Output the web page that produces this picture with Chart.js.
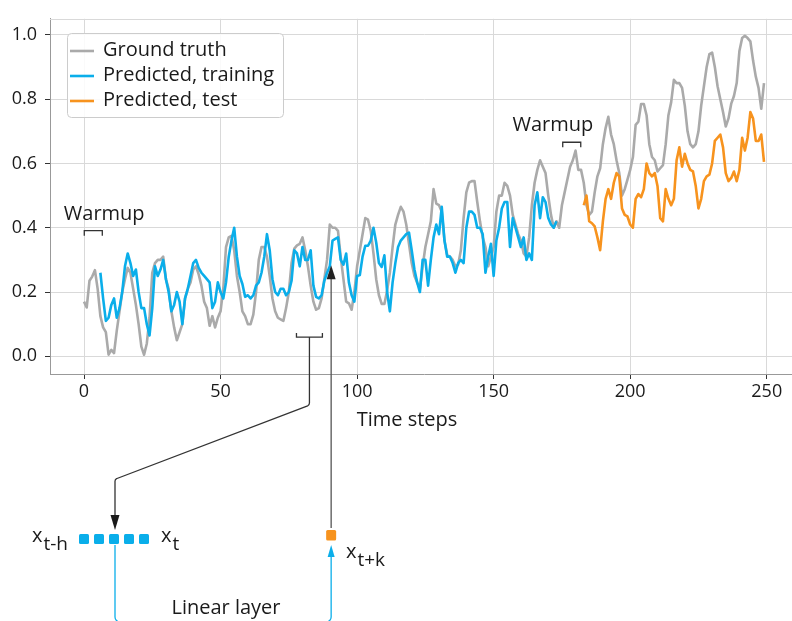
<!DOCTYPE html>
<html>
<head>
<meta charset="utf-8">
<script src="https://cdn.jsdelivr.net/npm/chart.js@4.4.0/dist/chart.umd.min.js"></script>
<style>
  html, body { margin: 0; padding: 0; background: #fff; overflow: hidden; }
  #wrap { width: 800px; height: 621px; }
</style>
</head>
<body>
<div id="wrap"><canvas id="chart" width="800" height="621"></canvas></div>
<script>
// series values (time step = index)
const groundTruth = [
  0.17, 0.152, 0.235, 0.248, 0.268, 0.21, 0.125, 0.09, 0.075, 0.005,
  0.02, 0.01, 0.08, 0.14, 0.20, 0.24, 0.275, 0.26, 0.21, 0.16,
  0.10, 0.03, 0.005, 0.04, 0.12, 0.26, 0.29, 0.30, 0.30, 0.31,
  0.24, 0.21, 0.14, 0.09, 0.05, 0.075, 0.10, 0.18, 0.21, 0.23,
  0.27, 0.28, 0.255, 0.22, 0.17, 0.15, 0.095, 0.125, 0.09, 0.12,
  0.14, 0.21, 0.34, 0.37, 0.375, 0.33, 0.25, 0.20, 0.14, 0.125,
  0.10, 0.10, 0.13, 0.20, 0.30, 0.34, 0.34, 0.31, 0.25, 0.18,
  0.14, 0.12, 0.115, 0.11, 0.15, 0.20, 0.29, 0.335, 0.345, 0.35,
  0.37, 0.33, 0.28, 0.22, 0.17, 0.145, 0.15, 0.18, 0.24, 0.30,
  0.41, 0.40, 0.40, 0.39, 0.31, 0.24, 0.17, 0.165, 0.145, 0.20,
  0.28, 0.33, 0.38, 0.43, 0.425, 0.39, 0.32, 0.24, 0.19, 0.163,
  0.163, 0.205, 0.26, 0.34, 0.41, 0.44, 0.465, 0.45, 0.41, 0.35,
  0.29, 0.25, 0.23, 0.21, 0.28, 0.34, 0.38, 0.42, 0.52, 0.475,
  0.47, 0.45, 0.36, 0.315, 0.31, 0.30, 0.28, 0.285, 0.33, 0.43,
  0.51, 0.54, 0.545, 0.545, 0.48, 0.42, 0.37, 0.34, 0.28, 0.31,
  0.34, 0.45, 0.50, 0.50, 0.54, 0.53, 0.50, 0.44, 0.41, 0.38,
  0.36, 0.32, 0.31, 0.37, 0.47, 0.54, 0.58, 0.61, 0.59, 0.57,
  0.50, 0.44, 0.40, 0.42, 0.40, 0.47, 0.51, 0.55, 0.59, 0.61,
  0.64, 0.58, 0.58, 0.54, 0.47, 0.44, 0.45, 0.51, 0.56, 0.585,
  0.66, 0.71, 0.745, 0.69, 0.66, 0.61, 0.57, 0.50, 0.52, 0.55,
  0.58, 0.62, 0.72, 0.73, 0.785, 0.785, 0.75, 0.66, 0.62, 0.61,
  0.575, 0.585, 0.595, 0.66, 0.75, 0.79, 0.86, 0.85, 0.85, 0.835,
  0.78, 0.70, 0.66, 0.65, 0.66, 0.70, 0.78, 0.84, 0.90, 0.94,
  0.945, 0.90, 0.84, 0.80, 0.76, 0.715, 0.74, 0.786, 0.81, 0.85,
  0.95, 0.99, 0.997, 0.99, 0.98, 0.92, 0.87, 0.835, 0.77, 0.85
];

const trainStart = 6;
const predictedTrain = [
  0.26, 0.18, 0.11, 0.12, 0.16, 0.18, 0.12, 0.15, 0.20, 0.28,
  0.32, 0.29, 0.25, 0.27, 0.20, 0.15, 0.15, 0.10, 0.065, 0.15,
  0.28, 0.25, 0.27, 0.30, 0.24, 0.20, 0.14, 0.16, 0.20, 0.17,
  0.10, 0.18, 0.21, 0.25, 0.29, 0.30, 0.275, 0.26, 0.25, 0.24,
  0.23, 0.15, 0.17, 0.23, 0.20, 0.18, 0.23, 0.31, 0.36, 0.40,
  0.31, 0.25, 0.225, 0.185, 0.19, 0.18, 0.19, 0.22, 0.23, 0.26,
  0.31, 0.38, 0.33, 0.24, 0.20, 0.19, 0.21, 0.21, 0.19, 0.20,
  0.235, 0.33, 0.32, 0.28, 0.34, 0.30, 0.30, 0.33, 0.22, 0.185,
  0.18, 0.19, 0.235, 0.26, 0.28, 0.36, 0.365, 0.37, 0.30, 0.285,
  0.32, 0.23, 0.19, 0.17, 0.25, 0.253, 0.31, 0.344, 0.344, 0.36,
  0.40, 0.354, 0.29, 0.278, 0.314, 0.20, 0.14, 0.23, 0.29, 0.34,
  0.36, 0.37, 0.38, 0.385, 0.33, 0.27, 0.23, 0.20, 0.30, 0.30,
  0.22, 0.30, 0.37, 0.41, 0.38, 0.465, 0.36, 0.31, 0.31, 0.29,
  0.26, 0.29, 0.30, 0.29, 0.40, 0.45, 0.45, 0.44, 0.40, 0.40,
  0.38, 0.26, 0.31, 0.35, 0.25, 0.36, 0.40, 0.46, 0.48, 0.48,
  0.34, 0.43, 0.40, 0.37, 0.34, 0.37, 0.30, 0.32, 0.30, 0.47,
  0.51, 0.43, 0.495, 0.48, 0.43, 0.41, 0.40, 0.42
];

const testStart = 183;
const predictedTest = [
  0.47, 0.50, 0.42, 0.414, 0.404, 0.37, 0.33, 0.42, 0.49, 0.52,
  0.49, 0.54, 0.57, 0.56, 0.46, 0.44, 0.435, 0.41, 0.40, 0.49,
  0.505, 0.495, 0.52, 0.60, 0.57, 0.56, 0.57, 0.53, 0.43, 0.42,
  0.52, 0.49, 0.47, 0.49, 0.61, 0.65, 0.59, 0.63, 0.60, 0.58,
  0.575, 0.53, 0.46, 0.49, 0.545, 0.56, 0.565, 0.60, 0.67, 0.68,
  0.69, 0.65, 0.57, 0.545, 0.555, 0.575, 0.545, 0.58, 0.68, 0.64,
  0.68, 0.76, 0.74, 0.67, 0.67, 0.69, 0.605
];

const seriesLabels = ['Ground truth', 'Predicted, training', 'Predicted, test'];
const seriesColors = ['#aaaaaa', '#0aaeea', '#f7931e'];
const xTicks = [0, 50, 100, 150, 200, 250];
const yTicks = [0, 0.2, 0.4, 0.6, 0.8, 1.0];

const FONT = '"Open Sans", "DejaVu Sans", sans-serif';

// annotations drawn on top (legend, warmup brackets, window diagram)
const overlay = {
  id: 'overlay',
  afterDraw(chart) {
    const { ctx, chartArea } = chart;
    const xs = chart.scales.x, ys = chart.scales.y;
    const px = v => xs.getPixelForValue(v);
    const py = v => ys.getPixelForValue(v);
    ctx.save();

    // top frame
    ctx.strokeStyle = '#d9d9d9';
    ctx.lineWidth = 1;
    ctx.beginPath();
    ctx.moveTo(chartArea.left, Math.round(chartArea.top) + 0.5);
    ctx.lineTo(chartArea.right, Math.round(chartArea.top) + 0.5);
    ctx.stroke();

    // legend
    ctx.fillStyle = 'rgba(255,255,255,0.85)';
    ctx.strokeStyle = '#cccccc';
    ctx.beginPath();
    ctx.roundRect(67.5, 33.5, 216, 84, 4);
    ctx.fill();
    ctx.stroke();
    ctx.font = '20px ' + FONT;
    ctx.textAlign = 'left';
    ctx.textBaseline = 'alphabetic';
    chart.data.datasets.forEach((ds, i) => {
      const ly = 51 + i * 25;
      ctx.strokeStyle = ds.borderColor;
      ctx.lineWidth = 2.6;
      ctx.beginPath();
      ctx.moveTo(70, ly);
      ctx.lineTo(94, ly);
      ctx.stroke();
      ctx.fillStyle = '#1a1a1a';
      ctx.fillText(ds.label, 103, ly + 5);
    });

    ctx.strokeStyle = '#333';
    ctx.fillStyle = '#1a1a1a';
    ctx.lineWidth = 1.3;

    // warmup brackets
    const warm = [[0.1, 6.7, 0.391, 7.4], [175.3, 181.9, 0.666, 171.7]];
    warm.forEach(([a, b, v, tx]) => {
      const x0 = px(a), x1 = px(b), y0 = py(v);
      ctx.beginPath();
      ctx.moveTo(x0, y0 + 5);
      ctx.lineTo(x0, y0);
      ctx.lineTo(x1, y0);
      ctx.lineTo(x1, y0 + 5);
      ctx.stroke();
      ctx.textAlign = 'center';
      ctx.fillText('Warmup', px(tx), y0 - 11);
    });

    // input window bracket
    const wx0 = px(77.8), wx1 = px(87.3), wy = py(0.06);
    const wc = (wx0 + wx1) / 2;
    ctx.beginPath();
    ctx.moveTo(wx0, wy - 4);
    ctx.lineTo(wx0, wy);
    ctx.lineTo(wx1, wy);
    ctx.lineTo(wx1, wy - 4);
    ctx.stroke();
    ctx.beginPath();
    ctx.moveTo(wc, wy);
    ctx.lineTo(wc, 402);
    ctx.arcTo(wc, 405, wc - 3, 406.3, 3);
    ctx.lineTo(117, 478.5);
    ctx.arcTo(115, 479.5, 115, 483, 3);
    ctx.lineTo(115, 516);
    ctx.stroke();
    ctx.beginPath();
    ctx.moveTo(115, 530);
    ctx.lineTo(110.5, 515);
    ctx.lineTo(119.5, 515);
    ctx.closePath();
    ctx.fill();

    // arrow from prediction point down to the output cell
    const ax = px(90.5), ay = py(0.283);
    ctx.strokeStyle = '#555';
    ctx.beginPath();
    ctx.moveTo(ax, ay + 12);
    ctx.lineTo(ax, 528);
    ctx.stroke();
    ctx.fillStyle = '#222';
    ctx.beginPath();
    ctx.moveTo(ax, ay);
    ctx.lineTo(ax - 4.5, ay + 14);
    ctx.lineTo(ax + 4.5, ay + 14);
    ctx.closePath();
    ctx.fill();

    // input cells
    ctx.fillStyle = seriesColors[1];
    [84, 99, 114, 129, 144].forEach(cx => {
      ctx.beginPath();
      ctx.roundRect(cx - 5, 534, 10, 10, 1.5);
      ctx.fill();
    });
    // output cell
    ctx.fillStyle = seriesColors[2];
    ctx.beginPath();
    ctx.roundRect(ax - 5, 530, 10, 10.5, 1.5);
    ctx.fill();

    // linear layer connector
    ctx.strokeStyle = seriesColors[1];
    ctx.lineWidth = 1.3;
    ctx.beginPath();
    ctx.moveTo(115, 545);
    ctx.lineTo(115, 617);
    ctx.arcTo(115, 622, 120, 622, 5);
    ctx.lineTo(ax - 5, 622);
    ctx.arcTo(ax, 622, ax, 617, 5);
    ctx.lineTo(ax, 556);
    ctx.stroke();
    ctx.fillStyle = seriesColors[1];
    ctx.beginPath();
    ctx.moveTo(ax, 545);
    ctx.lineTo(ax - 3.5, 557);
    ctx.lineTo(ax + 3.5, 557);
    ctx.closePath();
    ctx.fill();

    // texts
    ctx.fillStyle = '#1a1a1a';
    ctx.textAlign = 'center';
    ctx.font = '20px ' + FONT;
    ctx.fillText('Time steps', 407, 426);
    ctx.fillText('Linear layer', 226, 614);

    ctx.textAlign = 'left';
    const sub = (x, y, main, s) => {
      ctx.font = '20px ' + FONT;
      ctx.fillText(main, x, y);
      const w = ctx.measureText(main).width;
      ctx.font = '19px ' + FONT;
      ctx.fillText(s, x + w + 1, y + 8);
    };
    sub(32, 542, 'x', 't-h');
    sub(161, 542, 'x', 't');
    sub(346, 558, 'x', 't+k');

    ctx.restore();
  }
};

function makeChart() {
  const ctx = document.getElementById('chart').getContext('2d');
  new Chart(ctx, {
    type: 'line',
    data: {
      datasets: [
        {
          label: seriesLabels[0],
          data: groundTruth.map((v, i) => ({ x: i, y: v })),
          borderColor: seriesColors[0],
          order: 3,
        },
        {
          label: seriesLabels[1],
          data: predictedTrain.map((v, i) => ({ x: trainStart + i, y: v })),
          borderColor: seriesColors[1],
          order: 2,
        },
        {
          label: seriesLabels[2],
          data: predictedTest.map((v, i) => ({ x: testStart + i, y: v })),
          borderColor: seriesColors[2],
          order: 1,
        },
      ],
    },
    options: {
      responsive: false,
      animation: false,
      devicePixelRatio: 1,
      layout: { padding: { top: 8, right: 2, left: 0, bottom: 0 } },
      elements: {
        point: { radius: 0 },
        line: { borderWidth: 2.6, tension: 0, fill: false, borderJoinStyle: 'round' },
      },
      plugins: {
        legend: { display: false },
        tooltip: { enabled: false },
      },
      scales: {
        x: {
          type: 'linear',
          min: -12.45,
          max: 261.45,
          afterBuildTicks: s => { s.ticks = xTicks.map(v => ({ value: v })); },
          afterFit: s => { s.height = 247; },
          grid: { color: '#d9d9d9', tickColor: '#333', tickLength: 5, lineWidth: 1 },
          border: { color: '#999', width: 1 },
          ticks: {
            font: { family: FONT, size: 18 },
            color: '#1a1a1a',
            padding: 2,
            maxRotation: 0,
            callback: v => String(v),
          },
        },
        y: {
          min: -0.055,
          max: 1.05,
          afterBuildTicks: s => { s.ticks = yTicks.map(v => ({ value: v })); },
          afterFit: s => { s.width = 50; },
          grid: { color: '#d9d9d9', tickColor: '#333', tickLength: 5, lineWidth: 1 },
          border: { color: '#999', width: 1 },
          ticks: {
            font: { family: FONT, size: 18 },
            color: '#1a1a1a',
            padding: 8,
            callback: v => v.toFixed(1),
          },
        },
      },
    },
    plugins: [overlay],
  });
}

if (document.fonts && document.fonts.load) {
  document.fonts.load('20px "Open Sans"').then(makeChart, makeChart);
} else {
  makeChart();
}
</script>
</body>
</html>
